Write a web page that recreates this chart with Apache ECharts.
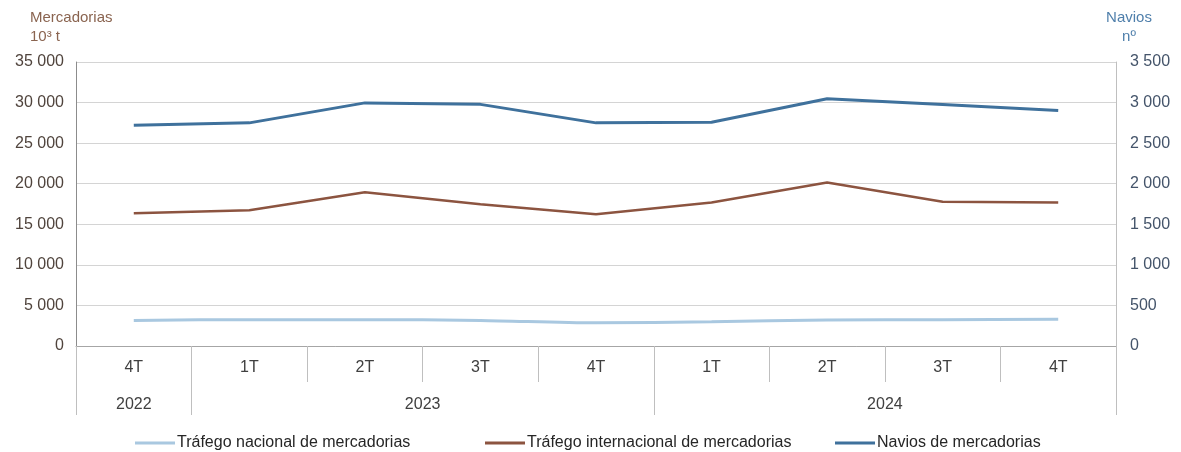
<!DOCTYPE html>
<html lang="pt">
<head>
    <meta charset="UTF-8">
    <title>Mercadorias e navios</title>
    <style>
        html, body { margin: 0; padding: 0; background: #fff; }
        #main { width: 1181px; height: 452px; }
    </style>
    <script src="https://cdn.jsdelivr.net/npm/echarts@6/dist/echarts.min.js"></script>
</head>
<body>
<div id="main"></div>
<script type="text/javascript">
    // trimestres e anos
    var quarters = ['4T', '1T', '2T', '3T', '4T', '1T', '2T', '3T', '4T'];
    var years = ['2022', '2023', '2024'];
    var yearCenters = [1, 6, 14];      // meio de cada ano, em meios-trimestres
    var yearBounds = [0, 2, 10, 18];   // separadores dos anos, em meios-trimestres

    // séries (mercadorias em 10^3 t, navios em nº)
    var nacional = [3150, 3250, 3250, 3150, 2850, 3000, 3200, 3250, 3300];
    var internacional = [16370, 16740, 18950, 17480, 16240, 17690, 20150, 17770, 17690];
    var navios = [2720, 2750, 2996, 2978, 2750, 2757, 3046, 2975, 2901];

    var leftTicks = [0, 35000, 5000];
    var rightTicks = [0, 3500, 500];

    var font = 'Liberation Sans';

    function fmt(v) {
        return String(v).replace(/\B(?=(\d{3})+(?!\d))/g, ' ');
    }

    // eixo dos anos: 19 posições a meio trimestre
    var yearSlots = [];
    for (var i = 0; i <= quarters.length * 2; i++) {
        var k = yearCenters.indexOf(i);
        yearSlots.push(k >= 0 ? years[k] : '');
    }

    var myChart = echarts.init(document.getElementById('main'));

    var option = {
        animation: false,
        textStyle: { fontFamily: font },
        grid: { left: 76, right: 65, top: 62, bottom: 106 },
        legend: [
            { left: 130, top: 430, data: ['Tráfego nacional de mercadorias'] },
            { left: 480, top: 430, data: ['Tráfego internacional de mercadorias'] },
            { left: 830, top: 430, data: ['Navios de mercadorias'] }
        ].map(function (l) {
            l.icon = 'rect';
            l.itemWidth = 40;
            l.itemHeight = 3;
            l.itemGap = 0;
            l.textStyle = { fontFamily: font, fontSize: 16, color: '#262626', padding: [0, 0, 0, -3] };
            return l;
        }),
        xAxis: [{
            type: 'category',
            data: quarters,
            boundaryGap: true,
            axisLine: { lineStyle: { color: '#a6a6a6' } },
            axisTick: { show: true, interval: 0, length: 36, lineStyle: { color: '#bfbfbf' } },
            axisLabel: { interval: 0, margin: 14, fontSize: 16, color: '#404040' }
        }, {
            // segunda linha: anos
            type: 'category',
            data: yearSlots,
            boundaryGap: false,
            position: 'bottom',
            axisLine: { show: false },
            splitLine: { show: false },
            axisTick: {
                show: true,
                length: 69,
                interval: function (idx) { return yearBounds.indexOf(idx) >= 0; },
                lineStyle: { color: '#bfbfbf' }
            },
            axisLabel: {
                interval: function (idx) { return yearCenters.indexOf(idx) >= 0; },
                margin: 51,
                fontSize: 16,
                color: '#404040'
            }
        }],
        yAxis: [{
            type: 'value',
            min: leftTicks[0],
            max: leftTicks[1],
            interval: leftTicks[2],
            name: 'Mercadorias\n10³ t',
            nameLocation: 'end',
            nameGap: 16,
            nameTextStyle: { align: 'left', color: '#8a6450', fontSize: 15, lineHeight: 19, padding: [0, 0, 0, -46] },
            axisLine: { show: true, lineStyle: { color: '#8c8c8c' } },
            axisTick: { show: false },
            splitLine: { lineStyle: { color: '#d4d4d4' } },
            axisLabel: { margin: 12, fontSize: 16, color: '#50443d', formatter: fmt }
        }, {
            type: 'value',
            min: rightTicks[0],
            max: rightTicks[1],
            interval: rightTicks[2],
            name: 'Navios\nnº',
            nameLocation: 'end',
            nameGap: 16,
            nameTextStyle: { align: 'center', color: '#4f7fab', fontSize: 15, lineHeight: 19, padding: [0, 0, 0, 26] },
            axisLine: { show: true, lineStyle: { color: '#bfbfbf' } },
            axisTick: { show: false },
            splitLine: { show: false },
            axisLabel: { margin: 14, fontSize: 16, color: '#44546a', formatter: fmt }
        }],
        series: [{
            name: 'Tráfego nacional de mercadorias',
            type: 'line',
            xAxisIndex: 0,
            yAxisIndex: 0,
            data: nacional,
            showSymbol: false,
            smooth: 0.3,
            lineStyle: { width: 3, color: '#a9c8e0' },
            itemStyle: { color: '#a9c8e0' }
        }, {
            name: 'Tráfego internacional de mercadorias',
            type: 'line',
            xAxisIndex: 0,
            yAxisIndex: 0,
            data: internacional,
            showSymbol: false,
            lineStyle: { width: 2.5, color: '#8c5440' },
            itemStyle: { color: '#8c5440' }
        }, {
            name: 'Navios de mercadorias',
            type: 'line',
            xAxisIndex: 0,
            yAxisIndex: 1,
            data: navios,
            showSymbol: false,
            lineStyle: { width: 3, color: '#3f719c' },
            itemStyle: { color: '#3f719c' }
        }]
    };

    myChart.setOption(option);
</script>
</body>
</html>
